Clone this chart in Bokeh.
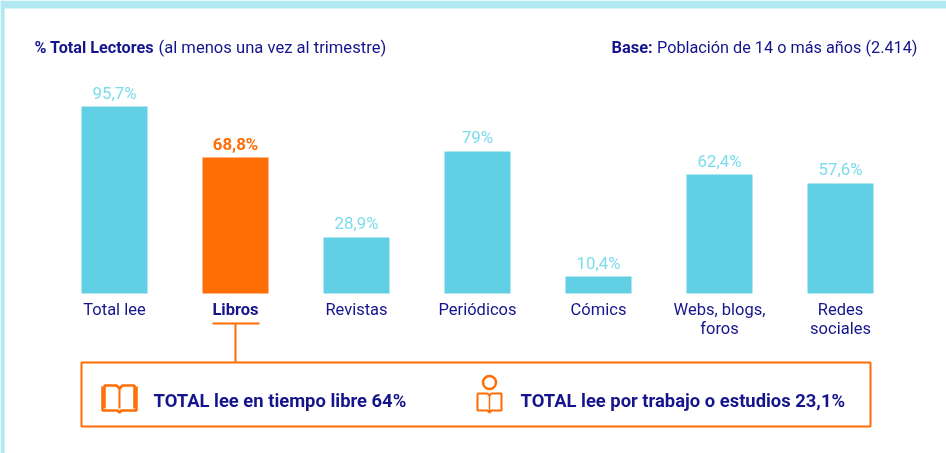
from bokeh.plotting import figure
from bokeh.models import Range1d
from bokeh.core.properties import value
from bokeh.embed import file_html
from bokeh.resources import INLINE

categories = ["Total lee", "Libros", "Revistas", "Periódicos", "Cómics", "Webs, blogs,\nforos", "Redes\nsociales"]
labels = ["95,7%", "68,8%", "28,9%", "79%", "10,4%", "62,4%", "57,6%"]
# bar lengths as drawn in the picture (the source's bars are not strictly proportional to their labels)
bar_lengths = [95.7, 69.6, 28.7, 72.7, 8.7, 60.9, 56.3]
highlight = "Libros"

W, H = 946, 453
NAVY, CYAN, CYAN_TXT, ORANGE, BAND = "#14148c", "#62d0e4", "#7adcec", "#ff6d05", "#b2e8f2"
FONT = value("Roboto")

PX_PER_UNIT = 1.954
BASE = 293
STEP = 121
X0 = 114

p = figure(width=W, height=H, output_backend="svg", toolbar_location=None,
           x_range=Range1d(-X0 / STEP, (W - X0) / STEP),
           y_range=Range1d(-(H - BASE) / PX_PER_UNIT, BASE / PX_PER_UNIT),
           min_border=0, outline_line_color=None, background_fill_color="white",
           border_fill_color="white")
p.axis.visible = False
p.grid.visible = False
p.styles = {"position": "fixed", "left": "0px", "top": "0px"}
p.extra_x_ranges["px"] = Range1d(0, W)
p.extra_y_ranges["px"] = Range1d(H, 0)
PX = dict(x_range_name="px", y_range_name="px")

xs = list(range(len(categories)))
colors = [ORANGE if c == highlight else CYAN for c in categories]
p.vbar(x=xs, top=bar_lengths, bottom=0, width=66 / STEP, fill_color=colors, line_color=None)

# page band
p.quad(left=[0, 0], right=[W, 4], top=[0, 0], bottom=[8, H], fill_color=BAND, line_color=None, **PX)

def txt(x, y, s, size, color=NAVY, style="normal", align="left", font=FONT):
    p.text(x=[x], y=[y], text=[s], text_font=font, text_font_size=f"{size}px", text_color=color,
           text_font_style=style, text_align=align, text_baseline="middle", **PX)

for i, (cat, lab, ln) in enumerate(zip(categories, labels, bar_lengths)):
    cx = X0 + STEP * i
    top_px = BASE - ln * PX_PER_UNIT
    hl = cat == highlight
    txt(cx, top_px - 14, lab, 16.8,
        color=ORANGE if hl else CYAN_TXT, style="bold" if hl else "normal", align="center")
    for j, line in enumerate(cat.split("\n")):
        txt(cx, 309 + j * 19, line, 16.5, style="bold" if hl else "normal", align="center")

# header
txt(34, 47, "% Total Lectores", 16.2, style="bold")
txt(158, 47, "(al menos una vez al trimestre)", 16.6)
txt(611, 47, "Base:", 16.4, style="bold")
txt(917, 47, "Población de 14 o más años (2.414)", 16.25, align="right")

# callout
p.line([212, 259], [323, 323], line_color=ORANGE, line_width=2, **PX)
p.line([235, 235], [323, 362], line_color=ORANGE, line_width=2, **PX)
p.quad(left=[81], right=[870], top=[362], bottom=[426], fill_color=None, line_color=ORANGE, line_width=2, **PX)

txt(153, 400, "TOTAL lee en tiempo libre 64%", 18.4, style="bold")
txt(520, 400, "TOTAL lee por trabajo o estudios 23,1%", 18.4, style="bold")

# open-book icon
p.line([102, 102, 117, 119, 121, 136, 136], [386, 410, 410, 412, 410, 410, 386], line_color=ORANGE, line_width=2.5, **PX)
p.line([104, 104, 116, 119, 122, 134, 134], [408, 385, 385, 388, 385, 385, 408], line_color=ORANGE, line_width=2.5, **PX)
p.line([119, 119], [388, 408], line_color=ORANGE, line_width=2, **PX)

# reader icon
p.circle(x=[489], y=[382], radius=6.5, fill_color=None, line_color=ORANGE, line_width=2.5, **PX)
p.line([477, 477, 487, 489, 491, 501, 501, 491, 489, 487, 477],
       [393, 410, 410, 412, 410, 410, 393, 393, 395, 393, 393], line_color=ORANGE, line_width=2, **PX)
p.line([489, 489], [395, 411], line_color=ORANGE, line_width=1.5, **PX)

open("out.html", "w").write(file_html(p, INLINE))
